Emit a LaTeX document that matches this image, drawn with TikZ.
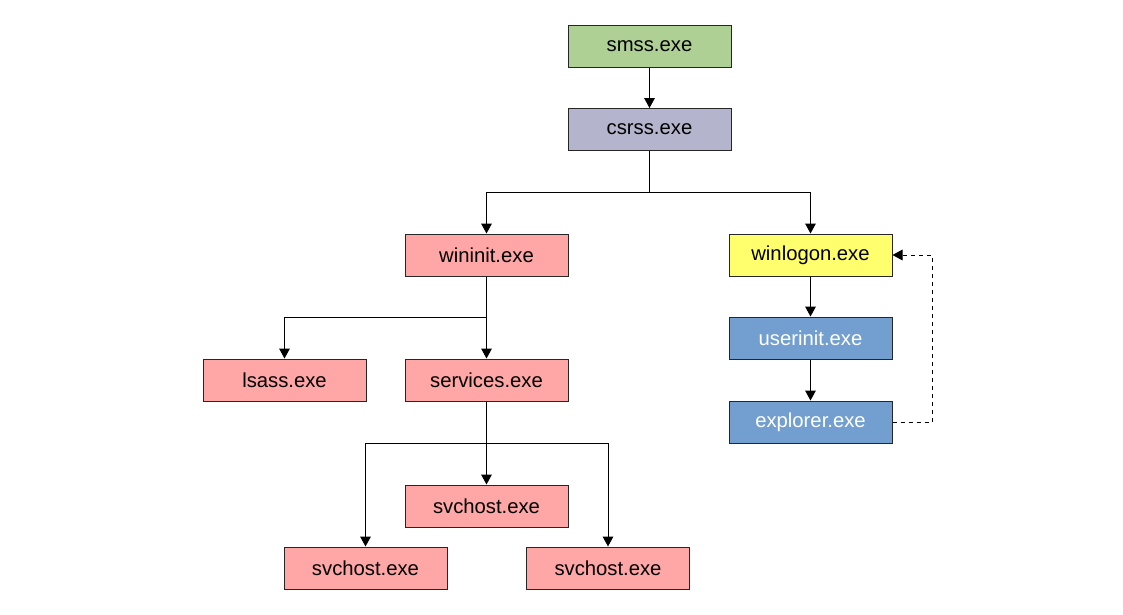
\documentclass[tikz,border=0pt]{standalone}
\usepackage{fontspec}
\setmainfont{Liberation Sans}
\usetikzlibrary{arrows.meta}
\definecolor{cgreen}{HTML}{AFD095}
\definecolor{cpurple}{HTML}{B4B4CC}
\definecolor{cpink}{HTML}{FFA6A6}
\definecolor{cyellow}{HTML}{FFFF6D}
\definecolor{cblue}{HTML}{729FCF}
\begin{document}
\begin{tikzpicture}[x=0.75pt,y=-0.75pt,
  proc/.style={draw=black!85, line width=0.75pt, minimum width=122.25pt, minimum height=31.5pt,
    inner sep=0pt, font=\fontsize{15.2}{18}\selectfont},
  conn/.style={line width=0.75pt, -{Triangle[width=8pt,length=7.5pt]}},
  plainline/.style={line width=0.75pt}]
\useasboundingbox (0,0) rectangle (1123,614);
\node[proc, fill=cgreen] (smss) at (649.5,46.5) {smss.exe};
\node[proc, fill=cpurple] (csrss) at (649.5,129.5) {csrss.exe};
\node[proc, fill=cpink] (wininit) at (486.5,255) {wininit.exe};
\node[proc, fill=cyellow] (winlogon) at (810.5,255) {winlogon.exe};
\node[proc, fill=cpink] (lsass) at (284.5,380) {lsass.exe};
\node[proc, fill=cpink] (services) at (486.5,380) {services.exe};
\node[proc, fill=cblue, text=white] (userinit) at (810.5,338) {userinit.exe};
\node[proc, fill=cblue, text=white] (explorer) at (810.5,422) {explorer.exe};
\node[proc, fill=cpink] (svc1) at (486.5,506) {svchost.exe};
\node[proc, fill=cpink] (svc2) at (365.5,568) {svchost.exe};
\node[proc, fill=cpink] (svc3) at (608,568) {svchost.exe};

\coordinate (j1) at (649.5,192.3);
\coordinate (j2) at (486.5,317.3);
\coordinate (j3) at (486.5,443.3);
\coordinate (dr) at (932,255);

\draw[conn] (smss) -- (csrss);
\draw[plainline] (csrss.south) -- (j1);
\draw[conn] (j1) -| (wininit.north);
\draw[conn] (j1) -| (winlogon.north);
\draw[plainline] (wininit.south) -- (j2);
\draw[conn] (j2) -| (lsass.north);
\draw[conn] (j2) -- (services.north);
\draw[plainline] (services.south) -- (j3);
\draw[conn] (j3) -- (svc1.north);
\draw[conn] (j3) -| (svc2.north);
\draw[conn] (j3) -| (svc3.north);
\draw[conn] (winlogon) -- (userinit);
\draw[conn] (userinit) -- (explorer);
\draw[conn, dashed] (explorer.east) -| (dr) -- (winlogon.east);
\end{tikzpicture}
\end{document}
